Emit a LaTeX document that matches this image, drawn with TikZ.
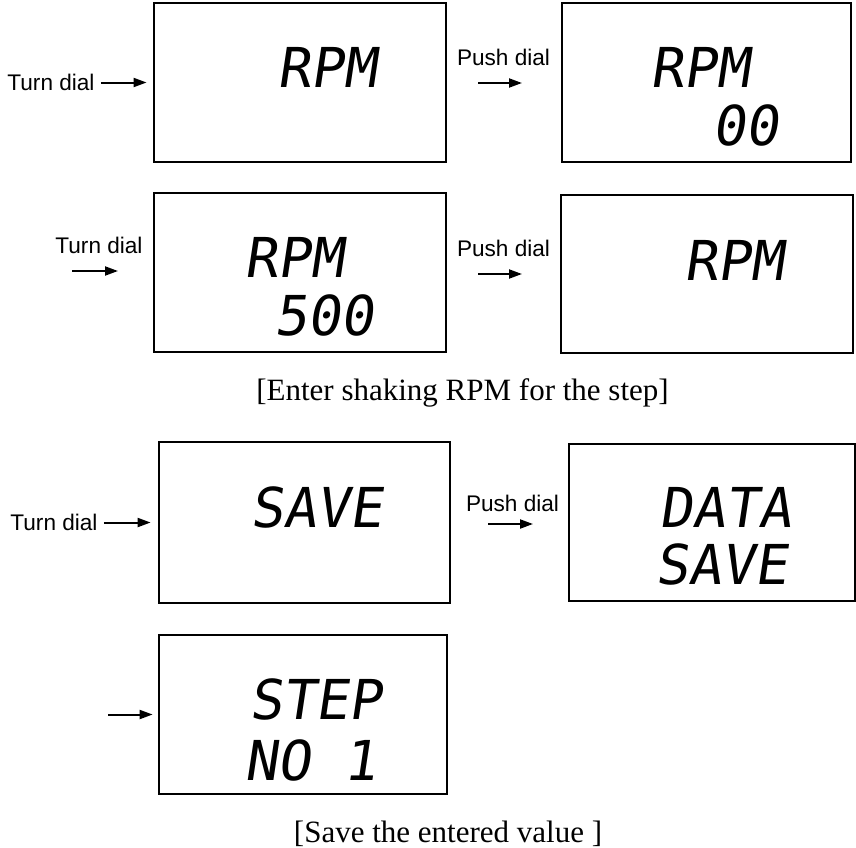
\documentclass[tikz,border=0pt]{standalone}
\usepackage{fontspec}
\usepackage{tikz}
\usetikzlibrary{arrows.meta}
\setmainfont{Liberation Serif}
\newfontfamily\dialfont{Liberation Sans}
\newfontfamily\lcdfont[FakeSlant=0.15]{DejaVu Sans Mono}
\tikzset{
    lcdbox/.style={rectangle, draw=black, line width=1.4pt, inner sep=0pt},
    lcdtext/.style={anchor=west, inner sep=0pt, font=\lcdfont\fontsize{27.5}{30}\selectfont},
    dialtext/.style={inner sep=3pt, font=\dialfont\fontsize{11.3}{13}\selectfont},
    arrow/.style={-{Triangle[length=6.5pt, width=4.5pt]}, line width=1pt, black},
    captiontext/.style={anchor=base, inner sep=0pt, font=\fontsize{15.5}{18}\selectfont},
}

\begin{document}
\begin{tikzpicture}[x=0.5pt, y=-0.5pt]
\useasboundingbox (0,0) rectangle (856,847);
% RPM entry
\node[lcdbox, minimum width=146pt, minimum height=79.5pt] (b1) at (300,82.5) {};
\node[lcdbox, minimum width=144.5pt, minimum height=79.5pt] (b2) at (706.5,82.5) {};
\node[lcdbox, minimum width=146pt, minimum height=79.5pt] (b3) at (300,272.5) {};
\node[lcdbox, minimum width=146pt, minimum height=79pt] (b4) at (707,274) {};
\node[lcdtext] (l1) at (277,67) {RPM};
\node[lcdtext] (l2a) at (650,67) {RPM};
\node[lcdtext] (l2b) at (712,125) {00};
\node[lcdtext] (l3a) at (244,257) {RPM};
\node[lcdtext] (l3b) at (274,315) {500};
\node[lcdtext] (l4) at (684,260) {RPM};
\node[dialtext] (t1) at (51,82.5) {Turn dial};
\node[dialtext] (t3) at (99,245) {Turn dial};
\node[dialtext] (p1) at (503.5,57) {Push dial};
\node[dialtext] (p2) at (503.5,248) {Push dial};
\coordinate (t3s) at (72,271);
\coordinate (t3e) at (118,271);
\coordinate (p1s) at (478,83);
\coordinate (p1e) at (522,83);
\coordinate (p2s) at (478,274);
\coordinate (p2e) at (522,274);
\draw[arrow, shorten >=3pt] (t1.east) -- (b1.west);
\draw[arrow] (t3s) -- (t3e);
\draw[arrow] (p1s) -- (p1e);
\draw[arrow] (p2s) -- (p2e);
\node[captiontext] (c1) at (462.5,400) {[Enter shaking RPM for the step]};
% saving
\node[lcdbox, minimum width=145.5pt, minimum height=80.5pt] (b5) at (304.5,522.5) {};
\node[lcdbox, minimum width=143pt, minimum height=78.5pt] (b6) at (712,522.5) {};
\node[lcdbox, minimum width=144pt, minimum height=79.5pt] (b7) at (303,714.5) {};
\node[lcdtext] (l5) at (250,507) {SAVE};
\node[lcdtext] (l6a) at (659,507) {DATA};
\node[lcdtext] (l6b) at (655,564) {SAVE};
\node[lcdtext] (l7a) at (249,699) {STEP};
\node[lcdtext] (l7b) at (244,760) {NO 1};
\node[dialtext] (t5) at (54,522.5) {Turn dial};
\node[dialtext] (p3) at (512.5,503) {Push dial};
\coordinate (p3s) at (488,524);
\coordinate (p3e) at (533,524);
\coordinate (a7) at (108,714.5);
\draw[arrow, shorten >=3.5pt] (t5.east) -- (b5.west);
\draw[arrow] (p3s) -- (p3e);
\draw[arrow, shorten >=2.5pt] (a7) -- (b7.west);
\node[captiontext] (c2) at (448,842) {[Save the entered value ]};
\end{tikzpicture}
\end{document}
